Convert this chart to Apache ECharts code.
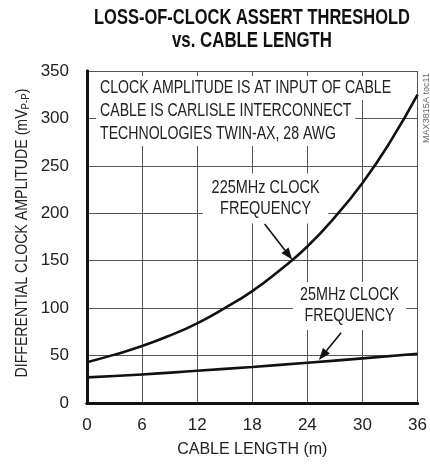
<!DOCTYPE html>
<html><head><meta charset="utf-8">
<script src="https://cdn.jsdelivr.net/npm/echarts@6/dist/echarts.min.js"></script>
<style>html,body{margin:0;padding:0;background:#fff}#c{width:430px;height:464px}</style>
</head><body><div id="c"></div>
<script>
// ---- data ----
const cableLen225 = [0, 3, 6, 9, 12, 15, 18, 21, 24, 27, 30, 33, 36];
const amp225MHz   = [43, 51, 60, 71, 84, 100, 118, 140, 165, 196, 232, 275, 325];
const cableLen25  = [0, 6, 12, 18, 24, 30, 36];
const amp25MHz    = [27, 30, 34, 38, 42.5, 47, 52];
const xTicks = [0, 6, 12, 18, 24, 30, 36];
const yTicks = [0, 50, 100, 150, 200, 250, 300, 350];
const titleLines = ['LOSS-OF-CLOCK ASSERT THRESHOLD', 'vs. CABLE LENGTH'];
const xName = 'CABLE LENGTH (m)';
const yName = ['DIFFERENTIAL CLOCK AMPLITUDE (mV', 'P-P', ')'];
const noteLines = ['CLOCK AMPLITUDE IS AT INPUT OF CABLE', 'CABLE IS CARLISLE INTERCONNECT', 'TECHNOLOGIES TWIN-AX, 28 AWG'];
const noteAnchors = [[1, 332], [1, 308], [1, 283.5]];
const label225 = ['225MHz CLOCK', 'FREQUENCY'];
const label225Anchor = [19.45, 215.5];
const arrow225 = [[19.35, 188.6], [22.36, 151]];
const label25 = ['25MHz CLOCK', 'FREQUENCY'];
const label25Anchor = [28.6, 102.3];
const arrow25 = [[27.68, 74], [25.25, 45.3]];

const FONT = '"Liberation Sans", Arial, sans-serif';
const TXT = '#222';

// horizontal condensing factor so text matches the narrow face of the reference
const ctx = document.createElement('canvas').getContext('2d');
function fit(text, font, target) { ctx.font = font; return target / ctx.measureText(text).width; }

const chart = echarts.init(document.getElementById('c'), null, {renderer: 'canvas'});
const zip = (a, b) => a.map((v, i) => [v, b[i]]);

const axisLineStyle = {lineStyle: {color: '#111', width: 3}};
chart.setOption({
  animation: false,
  grid: {left: 87, right: 12, top: 71, bottom: 61},
  xAxis: [{
    type: 'value', min: xTicks[0], max: xTicks[xTicks.length - 1], interval: 6,
    axisLine: axisLineStyle, axisTick: {show: false},
    axisLabel: {margin: 14, color: TXT, fontFamily: FONT, fontSize: 17},
    splitLine: {show: true, lineStyle: {color: '#555', width: 1}},
    name: xName, nameLocation: 'middle', nameGap: 39,
    nameTextStyle: {color: TXT, fontFamily: FONT, fontSize: 16}
  }, {
    type: 'value', position: 'top', min: 0, max: 36,
    axisLine: axisLineStyle, axisTick: {show: false}, axisLabel: {show: false}, splitLine: {show: false}
  }],
  yAxis: [{
    type: 'value', min: yTicks[0], max: yTicks[yTicks.length - 1], interval: 50,
    axisLine: axisLineStyle, axisTick: {show: false},
    axisLabel: {margin: 18, color: TXT, fontFamily: FONT, fontSize: 17},
    splitLine: {show: true, lineStyle: {color: '#555', width: 1}}
  }, {
    type: 'value', position: 'right', min: 0, max: 350,
    axisLine: axisLineStyle, axisTick: {show: false}, axisLabel: {show: false}, splitLine: {show: false}
  }],
  series: [{
    type: 'line', name: '225MHz', data: zip(cableLen225, amp225MHz), smooth: true, symbol: 'none',
    lineStyle: {color: '#111', width: 2.6}, z: 5
  }, {
    type: 'line', name: '25MHz', data: zip(cableLen25, amp25MHz), smooth: true, symbol: 'none',
    lineStyle: {color: '#111', width: 2.6}, z: 5
  }]
});

const px = p => chart.convertToPixel({gridIndex: 0}, p);
function arrow(a, b) {
  const [x1, y1] = px(a), [x2, y2] = px(b);
  const ang = Math.atan2(y2 - y1, x2 - x1), L = 12, W = 4.5;
  const bx = x2 - L * Math.cos(ang), by = y2 - L * Math.sin(ang);
  const nx = -Math.sin(ang), ny = Math.cos(ang);
  return [{
    type: 'line', z: 20, shape: {x1, y1, x2: bx, y2: by}, style: {stroke: '#111', lineWidth: 1.6}
  }, {
    type: 'polygon', z: 20, shape: {points: [[x2, y2], [bx + nx * W, by + ny * W], [bx - nx * W, by - ny * W]]},
    style: {fill: '#111'}
  }];
}
const g = [];
const titleFont = 'bold 22px ' + FONT;
const titleWidths = [316, 160];
titleLines.forEach((t, i) => {
  g.push({type: 'text', z: 30, x: 252, y: [18, 41][i], scaleX: fit(t, titleFont, titleWidths[i]), style: {
    text: t, font: titleFont, fill: '#111', textAlign: 'center', textVerticalAlign: 'middle'}});
});
// y-axis name with subscript
const yFont = '16px ' + FONT, ySubFont = '11px ' + FONT;
ctx.font = yFont; let yw = ctx.measureText(yName[0] + yName[2]).width;
ctx.font = ySubFont; yw += ctx.measureText(yName[1]).width;
g.push({type: 'text', z: 30, x: 23, y: 233, rotation: Math.PI / 2, scaleX: 289 / yw, style: {
  text: '{a|' + yName[0] + '}{s|' + yName[1] + '}{a|' + yName[2] + '}',
  textAlign: 'center', textVerticalAlign: 'middle',
  rich: {
    a: {fill: TXT, fontFamily: FONT, fontSize: 16},
    s: {fill: TXT, fontFamily: FONT, fontSize: 11, verticalAlign: 'bottom', padding: [6, 0, 0, 0]}
  }}});
const noteFont = '18px ' + FONT;
const noteScale = fit(noteLines[0], noteFont, 291);
noteLines.forEach((t, i) => {
  const [x, y] = px(noteAnchors[i]);
  g.push({type: 'text', z: 3, x, y, scaleX: noteScale, style: {
    text: t, font: noteFont, fill: TXT, textAlign: 'left', textVerticalAlign: 'middle',
    backgroundColor: '#fff', padding: [3, 5, 3, 5]}});
});
[[label225, label225Anchor, [4, 11], 108], [label25, label25Anchor, [3, 9], 99]].forEach(([lines, anc, pad, w]) => {
  const [x, y] = px(anc);
  g.push({type: 'text', z: 3, x, y, scaleX: fit(lines[0], noteFont, w), style: {
    text: lines.join('\n'), font: noteFont, fill: TXT, textAlign: 'center', textVerticalAlign: 'middle',
    lineHeight: 21, backgroundColor: '#fff', padding: pad}});
});
g.push(...arrow(arrow225[0], arrow225[1]));
g.push(...arrow(arrow25[0], arrow25[1]));
const smallFont = '9px ' + FONT;
g.push({type: 'text', z: 30, x: 427, y: 108, rotation: Math.PI / 2, scaleX: fit('MAX3815A toc11', smallFont, 70), style: {
  text: 'MAX3815A toc11', font: smallFont, fill: '#666', textAlign: 'center', textVerticalAlign: 'middle'}});
chart.setOption({graphic: {elements: g}});
</script></body></html>
